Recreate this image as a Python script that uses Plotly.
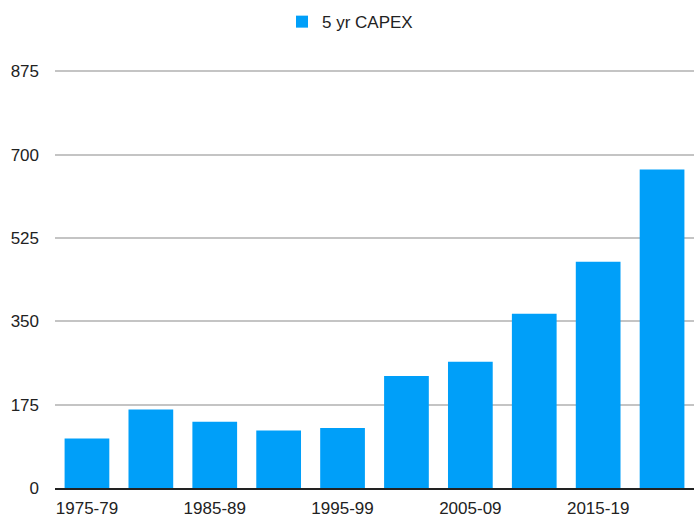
import plotly.graph_objects as go

categories = ["1975-79", "1980-84", "1985-89", "1990-94", "1995-99",
              "2000-04", "2005-09", "2010-14", "2015-19", "2020-24"]
capex = [104, 165, 139, 121, 126, 235, 265, 366, 475, 669]
shown_ticks = categories[::2]
y_ticks = [0, 175, 350, 525, 700, 875]

fig = go.Figure()
fig.add_trace(go.Bar(
    x=categories, y=capex, name="5 yr CAPEX",
    marker=dict(color="#009FF9", line=dict(width=0)),
))

fig.update_layout(
    width=700, height=526,
    margin=dict(l=55, r=6, t=70, b=38),
    paper_bgcolor="white", plot_bgcolor="white",
    font=dict(family="Liberation Sans, Arial, sans-serif", size=17, color="#222222"),
    bargap=0.3,
    showlegend=True,
    legend=dict(orientation="h", x=0.5, xanchor="center", xref="container",
                y=0.958, yanchor="middle", yref="container",
                font=dict(size=17), itemwidth=30),
    xaxis=dict(
        type="category",
        tickmode="array", tickvals=shown_ticks, ticktext=shown_ticks,
        showgrid=False, showline=True, linecolor="#222222", linewidth=1.5,
        ticks="", ticklabelstandoff=4,
    ),
    yaxis=dict(
        range=[0, 878], tickmode="array", tickvals=y_ticks,
        showgrid=True, gridcolor="#c4c4c4", gridwidth=1.5,
        zeroline=False, ticks="", ticklabelstandoff=15,
    ),
)

fig.write_html(
    "out.html",
    config={"displayModeBar": False},
    post_script="document.body.style.margin='0';document.body.style.overflow='hidden';",
)
